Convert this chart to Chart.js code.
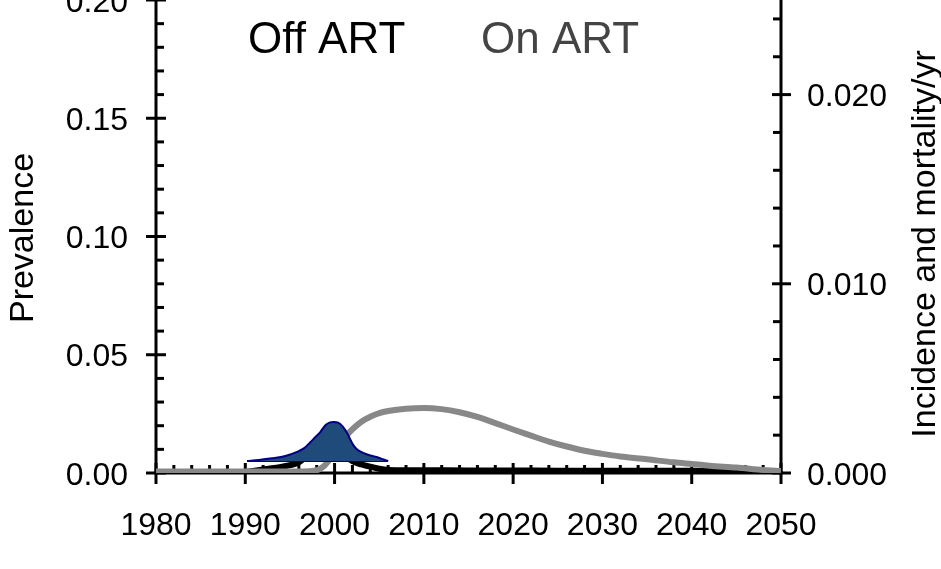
<!DOCTYPE html>
<html>
<head>
<meta charset="utf-8">
<script src="https://cdn.jsdelivr.net/npm/chart.js@4/dist/chart.umd.min.js"></script>
<style>
  html, body { margin: 0; padding: 0; background: #ffffff; }
  canvas { display: block; }
</style>
</head>
<body>
<canvas id="chart" width="941" height="569"></canvas>
<script>
// Prevalence on ART (grey curve)
const onArtYears = [1980, 1990, 1996, 1997.5, 1998.5, 1999.3, 2000, 2001, 2002, 2003, 2004, 2005, 2006, 2008, 2010, 2012, 2014, 2016, 2018, 2020, 2022, 2024, 2026, 2028, 2030, 2032, 2035, 2038, 2040, 2042, 2045, 2048, 2050];
const onArt      = [0.0006, 0.0006, 0.0006, 0.0008, 0.0020, 0.0050, 0.0095, 0.0145, 0.0185, 0.0217, 0.0238, 0.0253, 0.0262, 0.0272, 0.0275, 0.0270, 0.0257, 0.0237, 0.0211, 0.0184, 0.0158, 0.0133, 0.0112, 0.0094, 0.0081, 0.0070, 0.0058, 0.0045, 0.0038, 0.0031, 0.0023, 0.0013, 0.0008];

// Prevalence off ART (black curve)
const offArtYears = [1990, 1992, 1993, 1994, 1995, 1996, 1997, 1998, 1999, 2000, 2001, 2002, 2003, 2004, 2005, 2006, 2008, 2010, 2015, 2020, 2025, 2030, 2035, 2040, 2045, 2050];
const offArt      = [0.0004, 0.0015, 0.0020, 0.0026, 0.0033, 0.0045, 0.0075, 0.0100, 0.0110, 0.0105, 0.0080, 0.0050, 0.0036, 0.0027, 0.0018, 0.0013, 0.0012, 0.0012, 0.0011, 0.0011, 0.0010, 0.0010, 0.0009, 0.0009, 0.0008, 0.0007];

// Distribution shape drawn above a raised base line
const distYears  = [1990.2, 1991.5, 1993, 1994.5, 1995.8, 1996.6, 1997.2, 1997.8, 1998.4, 1999.0, 1999.5, 1999.9, 2000.4, 2000.9, 2001.4, 2002.1, 2002.6, 2003.2, 2004.0, 2004.7, 2005.4, 2006.0];
const distValues = [0.0051, 0.0055, 0.0062, 0.0072, 0.0089, 0.0105, 0.0127, 0.0150, 0.0173, 0.0203, 0.0214, 0.0216, 0.0213, 0.0197, 0.0169, 0.0118, 0.0097, 0.0085, 0.0074, 0.0068, 0.0058, 0.0051];
const distBase = 0.0051;

// Axis ticks and labels
const xTicks  = [1980, 1990, 2000, 2010, 2020, 2030, 2040, 2050];
const yTicks  = [0, 0.05, 0.10, 0.15, 0.20];
const yLabels = ['0.00', '0.05', '0.10', '0.15', '0.20'];
const y2Ticks  = [0, 0.010, 0.020];
const y2Labels = ['0.000', '0.010', '0.020'];

const FONT = '"Liberation Sans", Arial, Helvetica, sans-serif';

function pts(xs, ys) { return xs.map((x, i) => ({ x: x, y: ys[i] })); }

function seg(ctx, x1, y1, x2, y2) {
  ctx.beginPath(); ctx.moveTo(x1, y1); ctx.lineTo(x2, y2); ctx.stroke();
}

// Axis frame, crossing major ticks, inward minor ticks and all axis text
const frame = {
  id: 'frame',
  beforeDatasetsDraw(chart) {
    const ctx = chart.ctx, a = chart.chartArea;
    const sx = chart.scales.x, sy = chart.scales.y, sy2 = chart.scales.y2;
    ctx.save();
    ctx.strokeStyle = '#000';
    ctx.lineWidth = 3;
    ctx.lineCap = 'butt';
    // axis lines
    seg(ctx, a.left, a.top, a.left, a.bottom + 1.5);
    seg(ctx, a.right, a.top, a.right, a.bottom + 1.5);
    seg(ctx, a.left - 1.5, a.bottom, a.right + 1.5, a.bottom);
    // x ticks
    for (let yr = 1980; yr <= 2050; yr += 2) {
      const px = sx.getPixelForValue(yr);
      if (yr % 10 === 0) seg(ctx, px, a.bottom - 10, px, a.bottom + 11);
      else seg(ctx, px, a.bottom - 8, px, a.bottom);
    }
    // left ticks
    for (let k = 0; k <= 20; k++) {
      const py = sy.getPixelForValue(k / 100);
      if (k % 5 === 0) seg(ctx, a.left - 10, py, a.left + 10, py);
      else seg(ctx, a.left, py, a.left + 8, py);
    }
    // right ticks
    for (let k = 0; k <= 12; k++) {
      const py = sy2.getPixelForValue(k * 0.002);
      if (k % 5 === 0) seg(ctx, a.right - 9, py, a.right + 10, py);
      else seg(ctx, a.right - 8, py, a.right, py);
    }
    ctx.restore();
  },
  afterDraw(chart) {
    const ctx = chart.ctx, a = chart.chartArea;
    const sx = chart.scales.x, sy = chart.scales.y, sy2 = chart.scales.y2;
    ctx.save();
    ctx.fillStyle = '#000';
    ctx.font = '32px ' + FONT;
    ctx.textBaseline = 'alphabetic';
    // x tick labels
    ctx.textAlign = 'center';
    xTicks.forEach(v => ctx.fillText(String(v), sx.getPixelForValue(v), 535));
    // left tick labels
    ctx.textAlign = 'right';
    yTicks.forEach((v, i) => ctx.fillText(yLabels[i], a.left - 28, sy.getPixelForValue(v) + 11.5));
    // right tick labels
    ctx.textAlign = 'left';
    y2Ticks.forEach((v, i) => ctx.fillText(y2Labels[i], a.right + 26, sy2.getPixelForValue(v) + 11.5));
    // axis titles
    ctx.font = '34px ' + FONT;
    ctx.textAlign = 'center';
    ctx.save();
    ctx.translate(33, 238);
    ctx.rotate(-Math.PI / 2);
    ctx.fillText('Prevalence', 0, 0);
    ctx.restore();
    ctx.save();
    ctx.translate(935, 244);
    ctx.rotate(-Math.PI / 2);
    ctx.fillText('Incidence and mortality/yr', 0, 0);
    ctx.restore();
    // series labels
    ctx.font = '44px ' + FONT;
    ctx.textAlign = 'left';
    ctx.fillStyle = '#000';
    ctx.fillText('Off ART', 248, 53);
    ctx.fillStyle = '#444';
    ctx.fillText('On ART', 481, 53);
    ctx.restore();
  }
};

new Chart(document.getElementById('chart'), {
  type: 'line',
  data: {
    datasets: [
      {
        label: 'Distribution',
        data: pts(distYears, distValues),
        yAxisID: 'y',
        borderColor: '#000080',
        borderWidth: 2,
        backgroundColor: '#1f4b7b',
        fill: { value: distBase },
        pointRadius: 0,
        cubicInterpolationMode: 'monotone',
        order: 0
      },
      {
        label: 'Base',
        data: pts([distYears[0], distYears[distYears.length - 1]], [distBase, distBase]),
        yAxisID: 'y',
        borderColor: '#000080',
        borderWidth: 2,
        fill: false,
        pointRadius: 0,
        order: 0
      },
      {
        label: 'On ART',
        data: pts(onArtYears, onArt),
        yAxisID: 'y',
        borderColor: '#888888',
        borderWidth: 6,
        fill: false,
        pointRadius: 0,
        cubicInterpolationMode: 'monotone',
        order: 1
      },
      {
        label: 'Off ART',
        data: pts(offArtYears, offArt),
        yAxisID: 'y',
        borderColor: '#000000',
        borderWidth: 6,
        fill: false,
        pointRadius: 0,
        cubicInterpolationMode: 'monotone',
        order: 2
      }
    ]
  },
  options: {
    responsive: false,
    animation: false,
    devicePixelRatio: 1,
    layout: { padding: 0 },
    plugins: { legend: { display: false }, tooltip: { enabled: false } },
    scales: {
      x: {
        type: 'linear', min: 1980, max: 2050,
        grid: { display: false }, border: { display: false },
        ticks: { display: false },
        afterFit(s) { s.height = 96; }
      },
      y: {
        position: 'left', min: 0, max: 0.20,
        grid: { display: false }, border: { display: false },
        ticks: { display: false },
        afterFit(s) { s.width = 156; }
      },
      y2: {
        position: 'right', min: 0, max: 0.025,
        grid: { display: false }, border: { display: false },
        ticks: { display: false },
        afterFit(s) { s.width = 160; }
      }
    }
  },
  plugins: [frame]
});
</script>
</body>
</html>
